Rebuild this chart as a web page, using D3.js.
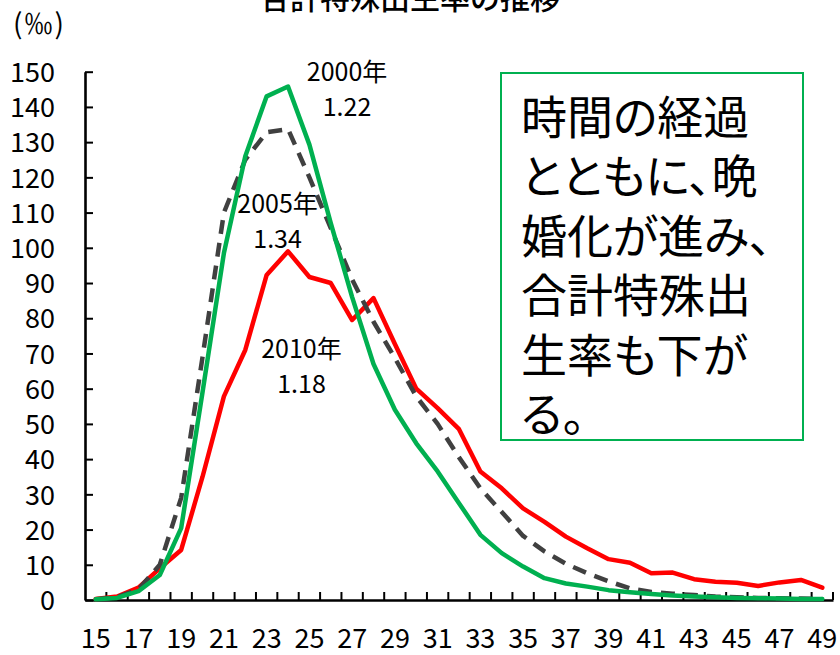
<!DOCTYPE html>
<html>
<head>
<meta charset="utf-8">
<script src="https://cdn.jsdelivr.net/npm/d3@7"></script>
<style>
  body { margin: 0; background: #fff; }
  text { font-family: "Noto Sans CJK JP", "Noto Sans", sans-serif; fill: #000; }
  .note { font-feature-settings: "palt"; }
</style>
</head>
<body>
<div id="chart"></div>
<script>
// ages 15..49
const ages = d3.range(15, 50);

// 2000, 2005, 2010 age-specific rates (per mille)
const rate2000 = [0.2, 0.6, 2.5, 7.1, 20.4, 59, 98.5, 126, 143, 145.8,
  129.3, 107, 86, 67, 54, 44.5, 36.5, 27.5, 18.5, 13.3,
  9.5, 6.2, 4.7, 3.8, 2.8, 2.2, 1.7, 1.3, 1.0, 0.8,
  0.6, 0.5, 0.4, 0.3, 0.3];
const rate2005 = [0.2, 0.8, 3.0, 10, 29, 69, 110, 125, 132.8, 133.7,
  120, 105.6, 91, 79, 68.7, 57.8, 50, 40.5, 31.7, 25,
  18.2, 13.8, 10.3, 7.6, 5.3, 3.3, 2.3, 1.8, 1.4, 1.0,
  0.8, 0.6, 0.5, 0.4, 0.3];
const rate2010 = [0.3, 1.0, 3.5, 9, 14.2, 35, 57.8, 71, 92.3, 99,
  91.7, 90, 79.5, 85.7, 72.7, 60, 54.5, 48.5, 36.5, 31.7,
  26, 22.2, 18, 14.7, 11.6, 10.6, 7.6, 7.8, 5.9, 5.2,
  4.9, 4.0, 5.0, 5.7, 3.5];

const yTicks = d3.range(0, 151, 10);
const xLabels = ages.filter(a => a % 2 === 1);

// label anchors given in data units (age, per mille)
const seriesLabels = [
  {year: "2000年", tfr: "1.22", age: 26.76, at: 150},
  {year: "2005年", tfr: "1.34", age: 23.51, at: 112.4},
  {year: "2010年", tfr: "1.18", age: 24.63, at: 71.2}
];
const note = ["時間の経過", "とともに、晩", "婚化が進み、", "合計特殊出", "生率も下が", "る。"];

const width = 840, height = 655;

const svg = d3.select("#chart")
  .append("svg")
    .attr("width", width)
    .attr("height", height);

const x = d3.scaleBand()
  .domain(ages)
  .range([85, 833]);

const y = d3.scaleLinear()
  .domain([0, 150])
  .range([600, 71.7]);

const cx = a => x(a) + x.bandwidth() / 2;

// title (cut off at the top like the original)
svg.append("text")
  .attr("x", 410)
  .attr("y", 9)
  .attr("text-anchor", "middle")
  .attr("font-size", 30)
  .attr("font-weight", 500)
  .text("合計特殊出生率の推移");

svg.append("text")
  .attr("x", 13)
  .attr("y", 34)
  .attr("font-size", 28)
  .attr("letter-spacing", 2)
  .text("(‰)");

// y axis
const yAxis = svg.append("g")
  .attr("transform", "translate(85,0)")
  .call(d3.axisLeft(y)
    .tickValues(yTicks)
    .tickSizeInner(-8)
    .tickSizeOuter(0)
    .tickPadding(30));

yAxis.select(".domain").attr("stroke-width", 2.6);
yAxis.selectAll(".tick line").attr("stroke-width", 2);
yAxis.selectAll("text")
  .attr("font-size", 27)
  .attr("font-family", "'Noto Sans CJK JP', sans-serif")
  .attr("dy", "0.36em");

// x axis: labels at odd ages, tick marks on band edges
const xAxis = svg.append("g")
  .attr("transform", "translate(0,600)")
  .call(d3.axisBottom(x)
    .tickValues(xLabels)
    .tickSize(0)
    .tickPadding(38));

xAxis.select(".domain").attr("stroke-width", 2.6);
xAxis.selectAll("text")
  .attr("font-size", 27)
  .attr("font-family", "'Noto Sans CJK JP', sans-serif")
  .attr("dy", "0.36em");

const edges = ages.map(a => x(a)).concat([x.range()[1]]);
xAxis.selectAll(".edge")
  .data(edges.slice(1))
  .enter().append("line")
    .attr("class", "edge")
    .attr("x1", d => d)
    .attr("x2", d => d)
    .attr("y1", 0)
    .attr("y2", -8)
    .attr("stroke", "#000")
    .attr("stroke-width", 2);

// lines
const line = d3.line()
  .x((d, i) => cx(ages[i]))
  .y(d => y(d));

svg.append("path")
  .datum(rate2010)
  .attr("fill", "none")
  .attr("stroke", "#ff0000")
  .attr("stroke-width", 4.5)
  .attr("stroke-linejoin", "round")
  .attr("stroke-linecap", "round")
  .attr("d", line);

svg.append("path")
  .datum(rate2005)
  .attr("fill", "none")
  .attr("stroke", "#404040")
  .attr("stroke-width", 4.5)
  .attr("stroke-dasharray", "14,9")
  .attr("stroke-linejoin", "round")
  .attr("d", line);

svg.append("path")
  .datum(rate2000)
  .attr("fill", "none")
  .attr("stroke", "#00b050")
  .attr("stroke-width", 4.5)
  .attr("stroke-linejoin", "round")
  .attr("stroke-linecap", "round")
  .attr("d", line);

// series labels
seriesLabels.forEach(function(d) {
  const px = cx(Math.floor(d.age)) + (d.age % 1) * x.bandwidth();
  const g = svg.append("g")
    .attr("transform", `translate(${px},${y(d.at)})`);
  g.append("text")
    .attr("text-anchor", "middle")
    .attr("font-size", 25)
    .attr("dy", "0.36em")
    .text(d.year);
  g.append("text")
    .attr("text-anchor", "middle")
    .attr("font-size", 25)
    .attr("y", 35)
    .attr("dy", "0.36em")
    .text(d.tfr);
});

// note box
svg.append("rect")
  .attr("x", 501)
  .attr("y", 73)
  .attr("width", 302)
  .attr("height", 367)
  .attr("fill", "#fff")
  .attr("stroke", "#00b050")
  .attr("stroke-width", 2);

svg.append("g")
  .attr("class", "note")
  .selectAll("text")
  .data(note)
  .enter().append("text")
    .attr("font-size", 46)
    .attr("x", 521)
    .attr("y", (d, i) => 134 + i * 59.4)
    .text(d => d);
</script>
</body>
</html>
